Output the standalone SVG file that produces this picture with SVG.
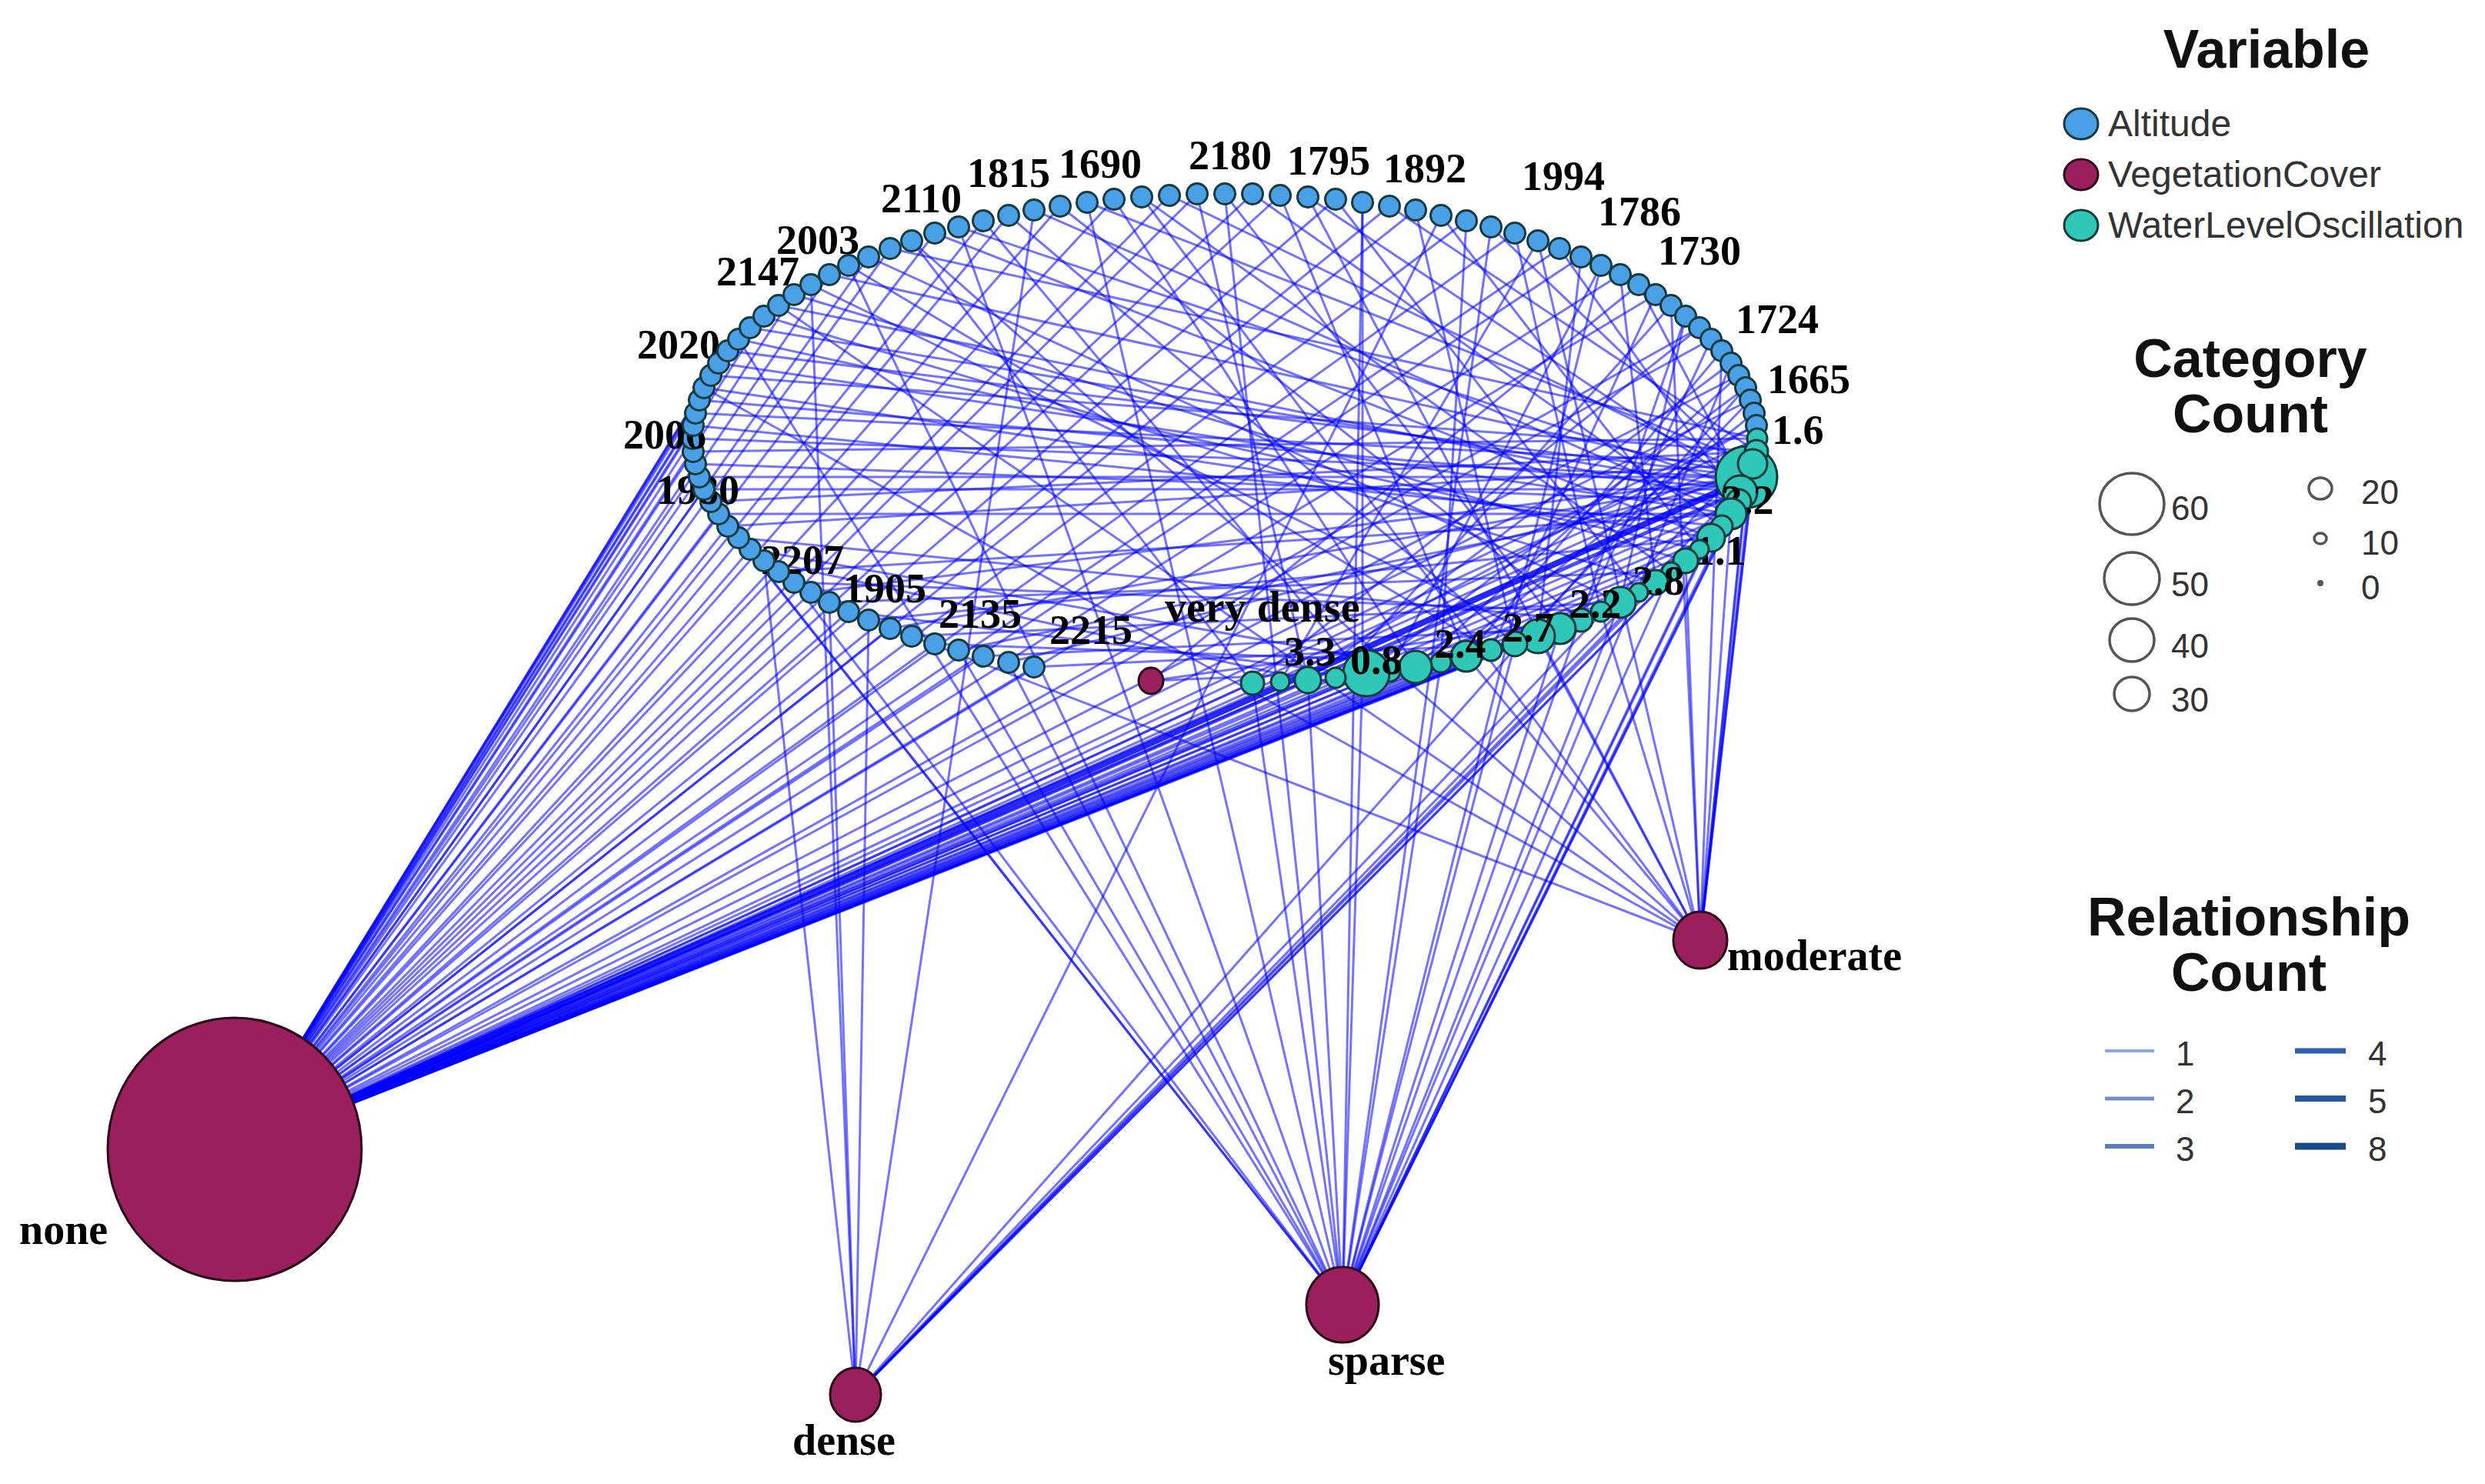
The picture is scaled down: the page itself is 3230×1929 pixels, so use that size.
<svg xmlns="http://www.w3.org/2000/svg" width="3230" height="1929" viewBox="0 0 3230 1929">
<style>
.e line{stroke:#0000ff;stroke-opacity:0.55;stroke-width:3;fill:none}
.e line.h8{stroke-width:8;stroke-opacity:0.85}
.e line.h5{stroke-width:5;stroke-opacity:0.7}
.e line.h4{stroke-width:4;stroke-opacity:0.65}
.alt{fill:#4aa0e6;stroke:#173b3d;stroke-width:3}
.wlo{fill:#2fc7b8;stroke:#173b3d;stroke-width:3}
.veg{fill:#9b1f5d;stroke:#2a0a1a;stroke-width:3}
.nl{font-family:"Liberation Serif","Times New Roman",serif;font-weight:bold;font-size:54px;fill:#000}
.vl{font-family:"Liberation Serif","Times New Roman",serif;font-weight:bold;font-size:56px;fill:#000}
.lt{font-family:"Liberation Sans",Arial,sans-serif;font-weight:bold;font-size:70px;fill:#111;text-anchor:middle}
.li{font-family:"Liberation Sans",Arial,sans-serif;font-size:48px;fill:#333}
.ln{font-family:"Liberation Sans",Arial,sans-serif;font-size:44px;fill:#333}
.cc{fill:none;stroke:#555;stroke-width:3.5}
</style>
<rect x="0" y="0" width="3230" height="1929" fill="#ffffff"/>

<g id="connectors" class="e">
<line x1="305" y1="1494" x2="1344" y2="867"/>
<line x1="305" y1="1494" x2="1278" y2="853"/>
<line x1="305" y1="1494" x2="1215" y2="837"/>
<line x1="305" y1="1494" x2="1157" y2="817"/>
<line x1="305" y1="1494" x2="1103" y2="795"/>
<line x1="305" y1="1494" x2="1054" y2="770"/>
<line x1="305" y1="1494" x2="1012" y2="743"/>
<line x1="305" y1="1494" x2="975" y2="714"/>
<line x1="305" y1="1494" x2="946" y2="684"/>
<line x1="305" y1="1494" x2="934" y2="668"/>
<line x1="305" y1="1494" x2="915" y2="636"/>
<line x1="305" y1="1494" x2="909" y2="620"/>
<line x1="305" y1="1494" x2="904" y2="603"/>
<line x1="305" y1="1494" x2="901" y2="587"/>
<line x1="305" y1="1494" x2="900" y2="570"/>
<line x1="305" y1="1494" x2="901" y2="553"/>
<line x1="305" y1="1494" x2="904" y2="537"/>
<line x1="305" y1="1494" x2="909" y2="520"/>
<line x1="305" y1="1494" x2="924" y2="488"/>
<line x1="305" y1="1494" x2="934" y2="472"/>
<line x1="305" y1="1494" x2="946" y2="456"/>
<line x1="305" y1="1494" x2="975" y2="426"/>
<line x1="305" y1="1494" x2="993" y2="411"/>
<line x1="305" y1="1494" x2="1032" y2="383"/>
<line x1="305" y1="1494" x2="1078" y2="357"/>
<line x1="305" y1="1494" x2="1129" y2="334"/>
<line x1="305" y1="1494" x2="1157" y2="323"/>
<line x1="305" y1="1494" x2="1215" y2="303"/>
<line x1="305" y1="1494" x2="1278" y2="287"/>
<line x1="305" y1="1494" x2="1311" y2="280"/>
<line x1="305" y1="1494" x2="1378" y2="268"/>
<line x1="305" y1="1494" x2="1448" y2="259"/>
<line x1="305" y1="1494" x2="1520" y2="254"/>
<line x1="305" y1="1494" x2="1556" y2="252"/>
<line x1="305" y1="1494" x2="1628" y2="252"/>
<line x1="305" y1="1494" x2="1664" y2="254"/>
<line x1="305" y1="1494" x2="1736" y2="259"/>
<line x1="305" y1="1494" x2="1806" y2="268"/>
<line x1="305" y1="1494" x2="1840" y2="273"/>
<line x1="305" y1="1494" x2="1906" y2="287"/>
<line x1="305" y1="1494" x2="1969" y2="303"/>
<line x1="305" y1="1494" x2="2027" y2="323"/>
<line x1="305" y1="1494" x2="2055" y2="334"/>
<line x1="305" y1="1494" x2="2106" y2="357"/>
<line x1="305" y1="1494" x2="2152" y2="383"/>
<line x1="305" y1="1494" x2="2209" y2="426"/>
<line x1="305" y1="1494" x2="2224" y2="441"/>
<line x1="305" y1="1494" x2="2260" y2="488"/>
<line x1="305" y1="1494" x2="2275" y2="520"/>
<line x1="305" y1="1494" x2="2283" y2="553"/>
<line x1="1745" y1="1696" x2="1311" y2="861"/>
<line x1="1745" y1="1696" x2="1246" y2="845"/>
<line x1="1745" y1="1696" x2="1032" y2="757"/>
<line x1="1745" y1="1696" x2="960" y2="699"/>
<line x1="1745" y1="1696" x2="924" y2="652"/>
<line x1="1745" y1="1696" x2="960" y2="441"/>
<line x1="1745" y1="1696" x2="1103" y2="345"/>
<line x1="1745" y1="1696" x2="1246" y2="295"/>
<line x1="1745" y1="1696" x2="1413" y2="263"/>
<line x1="1745" y1="1696" x2="1592" y2="252"/>
<line x1="1745" y1="1696" x2="1771" y2="263"/>
<line x1="1745" y1="1696" x2="1938" y2="295"/>
<line x1="1745" y1="1696" x2="2081" y2="345"/>
<line x1="1745" y1="1696" x2="2191" y2="411"/>
<line x1="1745" y1="1696" x2="2250" y2="472"/>
<line x1="1112" y1="1813" x2="1129" y2="806"/>
<line x1="1112" y1="1813" x2="1078" y2="783"/>
<line x1="1112" y1="1813" x2="993" y2="729"/>
<line x1="1112" y1="1813" x2="1054" y2="370"/>
<line x1="1112" y1="1813" x2="1344" y2="273"/>
<line x1="1112" y1="1813" x2="1873" y2="280"/>
<line x1="1112" y1="1813" x2="2269" y2="504"/>
<line x1="2210" y1="1222" x2="1185" y2="827"/>
<line x1="2210" y1="1222" x2="915" y2="504"/>
<line x1="2210" y1="1222" x2="1012" y2="397"/>
<line x1="2210" y1="1222" x2="1185" y2="313"/>
<line x1="2210" y1="1222" x2="1484" y2="256"/>
<line x1="2210" y1="1222" x2="1700" y2="256"/>
<line x1="2210" y1="1222" x2="1999" y2="313"/>
<line x1="2210" y1="1222" x2="2172" y2="397"/>
<line x1="2210" y1="1222" x2="2238" y2="456"/>
<line x1="2210" y1="1222" x2="2280" y2="537"/>
<line x1="1496" y1="885" x2="2130" y2="370"/>
<line x1="1344" y1="867" x2="1969" y2="837"/>
<line x1="1311" y1="861" x2="2276" y2="620"/>
<line x1="1278" y1="853" x2="2028" y2="817"/>
<line x1="1246" y1="845" x2="2269" y2="636"/>
<line x1="1215" y1="837" x2="1873" y2="861"/>
<line x1="1185" y1="827" x2="2106" y2="783"/>
<line x1="1157" y1="817" x2="2276" y2="620"/>
<line x1="1129" y1="806" x2="2224" y2="699"/>
<line x1="1103" y1="795" x2="1771" y2="877"/>
<line x1="1078" y1="783" x2="2172" y2="743"/>
<line x1="1054" y1="770" x2="2276" y2="620"/>
<line x1="1032" y1="757" x2="2081" y2="795"/>
<line x1="1012" y1="743" x2="2250" y2="668"/>
<line x1="993" y1="729" x2="1700" y2="884"/>
<line x1="975" y1="714" x2="1840" y2="867"/>
<line x1="960" y1="699" x2="2055" y2="806"/>
<line x1="946" y1="684" x2="2280" y2="603"/>
<line x1="934" y1="668" x2="2250" y2="668"/>
<line x1="924" y1="652" x2="2283" y2="587"/>
<line x1="915" y1="636" x2="2269" y2="636"/>
<line x1="909" y1="620" x2="2276" y2="620"/>
<line x1="904" y1="603" x2="2260" y2="652"/>
<line x1="901" y1="587" x2="2284" y2="570"/>
<line x1="900" y1="570" x2="2276" y2="620"/>
<line x1="901" y1="553" x2="2238" y2="684"/>
<line x1="904" y1="537" x2="2280" y2="603"/>
<line x1="909" y1="520" x2="2269" y2="636"/>
<line x1="915" y1="504" x2="2224" y2="699"/>
<line x1="924" y1="488" x2="2283" y2="587"/>
<line x1="934" y1="472" x2="2250" y2="668"/>
<line x1="946" y1="456" x2="2276" y2="620"/>
<line x1="960" y1="441" x2="2209" y2="714"/>
<line x1="975" y1="426" x2="2269" y2="636"/>
<line x1="993" y1="411" x2="2152" y2="757"/>
<line x1="1012" y1="397" x2="2260" y2="652"/>
<line x1="1032" y1="383" x2="2191" y2="729"/>
<line x1="1054" y1="370" x2="1999" y2="827"/>
<line x1="1078" y1="357" x2="2276" y2="620"/>
<line x1="1103" y1="345" x2="1938" y2="845"/>
<line x1="1129" y1="334" x2="2106" y2="783"/>
<line x1="1157" y1="323" x2="2284" y2="570"/>
<line x1="1185" y1="313" x2="1628" y2="888"/>
<line x1="1215" y1="303" x2="2224" y2="699"/>
<line x1="1246" y1="295" x2="2269" y2="636"/>
<line x1="1278" y1="287" x2="1771" y2="877"/>
<line x1="1311" y1="280" x2="1969" y2="837"/>
<line x1="1344" y1="273" x2="2250" y2="668"/>
<line x1="1378" y1="268" x2="2055" y2="806"/>
<line x1="1413" y1="263" x2="2280" y2="603"/>
<line x1="1448" y1="259" x2="1840" y2="867"/>
<line x1="1484" y1="256" x2="2172" y2="743"/>
<line x1="1520" y1="254" x2="2276" y2="620"/>
<line x1="1556" y1="252" x2="1700" y2="884"/>
<line x1="1592" y1="252" x2="2028" y2="817"/>
<line x1="1628" y1="252" x2="2238" y2="684"/>
<line x1="1664" y1="254" x2="1906" y2="853"/>
<line x1="1700" y1="256" x2="2269" y2="636"/>
<line x1="1736" y1="259" x2="2130" y2="770"/>
<line x1="1771" y1="263" x2="1771" y2="877"/>
<line x1="1806" y1="268" x2="2283" y2="587"/>
<line x1="1840" y1="273" x2="1969" y2="837"/>
<line x1="1873" y1="280" x2="2209" y2="714"/>
<line x1="1906" y1="287" x2="1873" y2="861"/>
<line x1="1938" y1="295" x2="2276" y2="620"/>
<line x1="1969" y1="303" x2="2081" y2="795"/>
<line x1="1999" y1="313" x2="1664" y2="886"/>
<line x1="2027" y1="323" x2="2260" y2="652"/>
<line x1="2055" y1="334" x2="1999" y2="827"/>
<line x1="2081" y1="345" x2="1806" y2="872"/>
<line x1="2106" y1="357" x2="2152" y2="757"/>
<line x1="2130" y1="370" x2="2269" y2="636"/>
<line x1="2152" y1="383" x2="1938" y2="845"/>
<line x1="2172" y1="397" x2="1736" y2="881"/>
<line x1="2191" y1="411" x2="2106" y2="783"/>
<line x1="2209" y1="426" x2="1628" y2="888"/>
<line x1="2224" y1="441" x2="2055" y2="806"/>
<line x1="2238" y1="456" x2="1906" y2="853"/>
<line x1="2250" y1="472" x2="1700" y2="884"/>
<line x1="2260" y1="488" x2="1840" y2="867"/>
<line x1="2269" y1="504" x2="1771" y2="877"/>
<line x1="2275" y1="520" x2="1969" y2="837"/>
<line x1="2280" y1="537" x2="1873" y2="861"/>
<line x1="2283" y1="553" x2="1664" y2="886"/>
<line x1="305" y1="1494" x2="2284" y2="570"/>
<line x1="305" y1="1494" x2="2283" y2="587"/>
<line x1="305" y1="1494" x2="2280" y2="603"/>
<line class="h8" x1="305" y1="1494" x2="2276" y2="620"/>
<line class="h5" x1="305" y1="1494" x2="2269" y2="636"/>
<line x1="305" y1="1494" x2="2260" y2="652"/>
<line x1="305" y1="1494" x2="2250" y2="668"/>
<line x1="305" y1="1494" x2="2238" y2="684"/>
<line x1="305" y1="1494" x2="2224" y2="699"/>
<line x1="305" y1="1494" x2="2209" y2="714"/>
<line x1="305" y1="1494" x2="2191" y2="729"/>
<line x1="305" y1="1494" x2="2172" y2="743"/>
<line x1="305" y1="1494" x2="2152" y2="757"/>
<line x1="305" y1="1494" x2="2130" y2="770"/>
<line x1="305" y1="1494" x2="2106" y2="783"/>
<line x1="305" y1="1494" x2="2081" y2="795"/>
<line x1="305" y1="1494" x2="2055" y2="806"/>
<line class="h4" x1="305" y1="1494" x2="2028" y2="817"/>
<line x1="305" y1="1494" x2="1999" y2="827"/>
<line x1="305" y1="1494" x2="1969" y2="837"/>
<line x1="305" y1="1494" x2="1938" y2="845"/>
<line x1="305" y1="1494" x2="1906" y2="853"/>
<line x1="305" y1="1494" x2="1873" y2="861"/>
<line x1="305" y1="1494" x2="1840" y2="867"/>
<line x1="305" y1="1494" x2="1806" y2="872"/>
<line class="h5" x1="305" y1="1494" x2="1771" y2="877"/>
<line x1="305" y1="1494" x2="1736" y2="881"/>
<line x1="305" y1="1494" x2="1700" y2="884"/>
<line x1="305" y1="1494" x2="1664" y2="886"/>
<line x1="305" y1="1494" x2="1628" y2="888"/>
<line x1="1745" y1="1696" x2="2284" y2="570"/>
<line x1="1745" y1="1696" x2="2276" y2="620"/>
<line x1="1745" y1="1696" x2="2269" y2="636"/>
<line x1="1745" y1="1696" x2="2250" y2="668"/>
<line x1="1745" y1="1696" x2="2224" y2="699"/>
<line x1="1745" y1="1696" x2="2172" y2="743"/>
<line x1="1745" y1="1696" x2="2106" y2="783"/>
<line x1="1745" y1="1696" x2="2028" y2="817"/>
<line x1="1745" y1="1696" x2="1969" y2="837"/>
<line x1="1745" y1="1696" x2="1873" y2="861"/>
<line x1="1745" y1="1696" x2="1771" y2="877"/>
<line x1="1745" y1="1696" x2="1700" y2="884"/>
<line x1="1745" y1="1696" x2="1628" y2="888"/>
<line x1="1112" y1="1813" x2="2283" y2="587"/>
<line x1="1112" y1="1813" x2="2276" y2="620"/>
<line x1="1112" y1="1813" x2="2260" y2="652"/>
<line x1="1112" y1="1813" x2="2238" y2="684"/>
<line x1="1112" y1="1813" x2="2209" y2="714"/>
<line x1="1112" y1="1813" x2="2152" y2="757"/>
<line x1="2210" y1="1222" x2="2284" y2="570"/>
<line x1="2210" y1="1222" x2="2280" y2="603"/>
<line x1="2210" y1="1222" x2="2276" y2="620"/>
<line x1="2210" y1="1222" x2="2269" y2="636"/>
<line x1="2210" y1="1222" x2="2250" y2="668"/>
<line x1="2210" y1="1222" x2="2191" y2="729"/>
<line x1="2210" y1="1222" x2="2081" y2="795"/>
<line x1="2210" y1="1222" x2="1999" y2="827"/>
<line x1="2210" y1="1222" x2="1906" y2="853"/>
<line x1="1496" y1="885" x2="2055" y2="806"/>
<line x1="1496" y1="885" x2="1806" y2="872"/>
</g>

<g id="altitude-nodes">
<g id="alt-111"><circle cx="1344" cy="867" r="13.5" class="alt"/><text x="1364" y="837" class="nl">2215</text></g>
<g id="alt-114"><circle cx="1311" cy="861" r="13.5" class="alt"/></g>
<g id="alt-117"><circle cx="1278" cy="853" r="13.5" class="alt"/><text x="1220" y="816" class="nl">2135</text></g>
<g id="alt-120"><circle cx="1246" cy="845" r="13.5" class="alt"/></g>
<g id="alt-123"><circle cx="1215" cy="837" r="13.5" class="alt"/></g>
<g id="alt-126"><circle cx="1185" cy="827" r="13.5" class="alt"/></g>
<g id="alt-129"><circle cx="1157" cy="817" r="13.5" class="alt"/><text x="1096" y="783" class="nl">1905</text></g>
<g id="alt-132"><circle cx="1129" cy="806" r="13.5" class="alt"/></g>
<g id="alt-135"><circle cx="1103" cy="795" r="13.5" class="alt"/></g>
<g id="alt-138"><circle cx="1078" cy="783" r="13.5" class="alt"/></g>
<g id="alt-141"><circle cx="1054" cy="770" r="13.5" class="alt"/></g>
<g id="alt-144"><circle cx="1032" cy="757" r="13.5" class="alt"/><text x="989" y="746" class="nl">2207</text></g>
<g id="alt-147"><circle cx="1012" cy="743" r="13.5" class="alt"/></g>
<g id="alt-150"><circle cx="993" cy="729" r="13.5" class="alt"/></g>
<g id="alt-153"><circle cx="975" cy="714" r="13.5" class="alt"/></g>
<g id="alt-156"><circle cx="960" cy="699" r="13.5" class="alt"/></g>
<g id="alt-159"><circle cx="946" cy="684" r="13.5" class="alt"/></g>
<g id="alt-162"><circle cx="934" cy="668" r="13.5" class="alt"/></g>
<g id="alt-165"><circle cx="924" cy="652" r="13.5" class="alt"/><text x="853" y="655" class="nl">1980</text></g>
<g id="alt-168"><circle cx="915" cy="636" r="13.5" class="alt"/></g>
<g id="alt-171"><circle cx="909" cy="620" r="13.5" class="alt"/></g>
<g id="alt-174"><circle cx="904" cy="603" r="13.5" class="alt"/></g>
<g id="alt-177"><circle cx="901" cy="587" r="13.5" class="alt"/></g>
<g id="alt-180"><circle cx="900" cy="570" r="13.5" class="alt"/><text x="810" y="583" class="nl">2006</text></g>
<g id="alt-183"><circle cx="901" cy="553" r="13.5" class="alt"/></g>
<g id="alt-186"><circle cx="904" cy="537" r="13.5" class="alt"/></g>
<g id="alt-189"><circle cx="909" cy="520" r="13.5" class="alt"/></g>
<g id="alt-192"><circle cx="915" cy="504" r="13.5" class="alt"/></g>
<g id="alt-195"><circle cx="924" cy="488" r="13.5" class="alt"/><text x="828" y="466" class="nl">2020</text></g>
<g id="alt-198"><circle cx="934" cy="472" r="13.5" class="alt"/></g>
<g id="alt-201"><circle cx="946" cy="456" r="13.5" class="alt"/></g>
<g id="alt-204"><circle cx="960" cy="441" r="13.5" class="alt"/></g>
<g id="alt-207"><circle cx="975" cy="426" r="13.5" class="alt"/></g>
<g id="alt-210"><circle cx="993" cy="411" r="13.5" class="alt"/><text x="931" y="371" class="nl">2147</text></g>
<g id="alt-213"><circle cx="1012" cy="397" r="13.5" class="alt"/></g>
<g id="alt-216"><circle cx="1032" cy="383" r="13.5" class="alt"/></g>
<g id="alt-219"><circle cx="1054" cy="370" r="13.5" class="alt"/><text x="1009" y="330" class="nl">2003</text></g>
<g id="alt-222"><circle cx="1078" cy="357" r="13.5" class="alt"/></g>
<g id="alt-225"><circle cx="1103" cy="345" r="13.5" class="alt"/></g>
<g id="alt-228"><circle cx="1129" cy="334" r="13.5" class="alt"/></g>
<g id="alt-231"><circle cx="1157" cy="323" r="13.5" class="alt"/></g>
<g id="alt-234"><circle cx="1185" cy="313" r="13.5" class="alt"/><text x="1145" y="276" class="nl">2110</text></g>
<g id="alt-237"><circle cx="1215" cy="303" r="13.5" class="alt"/></g>
<g id="alt-240"><circle cx="1246" cy="295" r="13.5" class="alt"/></g>
<g id="alt-243"><circle cx="1278" cy="287" r="13.5" class="alt"/></g>
<g id="alt-246"><circle cx="1311" cy="280" r="13.5" class="alt"/><text x="1257" y="243" class="nl">1815</text></g>
<g id="alt-249"><circle cx="1344" cy="273" r="13.5" class="alt"/></g>
<g id="alt-252"><circle cx="1378" cy="268" r="13.5" class="alt"/></g>
<g id="alt-255"><circle cx="1413" cy="263" r="13.5" class="alt"/><text x="1376" y="231" class="nl">1690</text></g>
<g id="alt-258"><circle cx="1448" cy="259" r="13.5" class="alt"/></g>
<g id="alt-261"><circle cx="1484" cy="256" r="13.5" class="alt"/></g>
<g id="alt-264"><circle cx="1520" cy="254" r="13.5" class="alt"/></g>
<g id="alt-267"><circle cx="1556" cy="252" r="13.5" class="alt"/></g>
<g id="alt-270"><circle cx="1592" cy="252" r="13.5" class="alt"/><text x="1545" y="220" class="nl">2180</text></g>
<g id="alt-273"><circle cx="1628" cy="252" r="13.5" class="alt"/></g>
<g id="alt-276"><circle cx="1664" cy="254" r="13.5" class="alt"/></g>
<g id="alt-279"><circle cx="1700" cy="256" r="13.5" class="alt"/></g>
<g id="alt-282"><circle cx="1736" cy="259" r="13.5" class="alt"/><text x="1673" y="227" class="nl">1795</text></g>
<g id="alt-285"><circle cx="1771" cy="263" r="13.5" class="alt"/></g>
<g id="alt-288"><circle cx="1806" cy="268" r="13.5" class="alt"/></g>
<g id="alt-291"><circle cx="1840" cy="273" r="13.5" class="alt"/></g>
<g id="alt-294"><circle cx="1873" cy="280" r="13.5" class="alt"/><text x="1798" y="237" class="nl">1892</text></g>
<g id="alt-297"><circle cx="1906" cy="287" r="13.5" class="alt"/></g>
<g id="alt-300"><circle cx="1938" cy="295" r="13.5" class="alt"/></g>
<g id="alt-303"><circle cx="1969" cy="303" r="13.5" class="alt"/></g>
<g id="alt-306"><circle cx="1999" cy="313" r="13.5" class="alt"/></g>
<g id="alt-309"><circle cx="2027" cy="323" r="13.5" class="alt"/><text x="1978" y="247" class="nl">1994</text></g>
<g id="alt-312"><circle cx="2055" cy="334" r="13.5" class="alt"/></g>
<g id="alt-315"><circle cx="2081" cy="345" r="13.5" class="alt"/></g>
<g id="alt-318"><circle cx="2106" cy="357" r="13.5" class="alt"/></g>
<g id="alt-321"><circle cx="2130" cy="370" r="13.5" class="alt"/><text x="2077" y="293" class="nl">1786</text></g>
<g id="alt-324"><circle cx="2152" cy="383" r="13.5" class="alt"/></g>
<g id="alt-327"><circle cx="2172" cy="397" r="13.5" class="alt"/></g>
<g id="alt-330"><circle cx="2191" cy="411" r="13.5" class="alt"/><text x="2155" y="344" class="nl">1730</text></g>
<g id="alt-333"><circle cx="2209" cy="426" r="13.5" class="alt"/></g>
<g id="alt-336"><circle cx="2224" cy="441" r="13.5" class="alt"/></g>
<g id="alt-339"><circle cx="2238" cy="456" r="13.5" class="alt"/></g>
<g id="alt-342"><circle cx="2250" cy="472" r="13.5" class="alt"/><text x="2256" y="433" class="nl">1724</text></g>
<g id="alt-345"><circle cx="2260" cy="488" r="13.5" class="alt"/></g>
<g id="alt-348"><circle cx="2269" cy="504" r="13.5" class="alt"/></g>
<g id="alt-351"><circle cx="2275" cy="520" r="13.5" class="alt"/><text x="2297" y="511" class="nl">1665</text></g>
<g id="alt-354"><circle cx="2280" cy="537" r="13.5" class="alt"/></g>
<g id="alt-357"><circle cx="2283" cy="553" r="13.5" class="alt"/></g>
</g>

<g id="vegetation-nodes">
<g id="veg-none"><ellipse cx="305" cy="1494" rx="165" ry="171" class="veg"/><text x="25" y="1617" class="vl">none</text></g>
<g id="veg-dense"><ellipse cx="1112" cy="1813" rx="33" ry="35" class="veg"/><text x="1030" y="1891" class="vl">dense</text></g>
<g id="veg-sparse"><ellipse cx="1745" cy="1696" rx="47" ry="49" class="veg"/><text x="1726" y="1787" class="vl">sparse</text></g>
<g id="veg-moderate"><ellipse cx="2210" cy="1222" rx="35" ry="37" class="veg"/><text x="2245" y="1261" class="vl">moderate</text></g>
<g id="veg-very-dense"><ellipse cx="1496" cy="885" rx="16" ry="17" class="veg"/><text x="1514" y="808" class="vl">very dense</text></g>
</g>

<g id="wlo-nodes">
<g id="wlo-9"><circle cx="2270" cy="620" r="40" class="wlo"/></g>
<g id="wlo-0"><circle cx="2284" cy="570" r="13" class="wlo"/><text x="2303" y="577" class="nl">1.6</text></g>
<g id="wlo-3"><circle cx="2283" cy="587" r="15" class="wlo"/></g>
<g id="wlo-6"><circle cx="2278" cy="603" r="19" class="wlo"/></g>
<g id="wlo-12"><circle cx="2262" cy="640" r="22" class="wlo"/></g>
<g id="wlo-15"><circle cx="2260" cy="652" r="16" class="wlo"/><text x="2238" y="668" class="nl">3.2</text></g>
<g id="wlo-18"><circle cx="2250" cy="668" r="20" class="wlo"/></g>
<g id="wlo-21"><circle cx="2238" cy="684" r="14" class="wlo"/></g>
<g id="wlo-24"><circle cx="2224" cy="699" r="18" class="wlo"/><text x="2202" y="734" class="nl">1.1</text></g>
<g id="wlo-27"><circle cx="2209" cy="714" r="12" class="wlo"/></g>
<g id="wlo-30"><circle cx="2191" cy="729" r="16" class="wlo"/></g>
<g id="wlo-33"><circle cx="2172" cy="743" r="12" class="wlo"/></g>
<g id="wlo-36"><circle cx="2152" cy="757" r="16" class="wlo"/><text x="2122" y="773" class="nl">2.8</text></g>
<g id="wlo-39"><circle cx="2130" cy="770" r="12" class="wlo"/></g>
<g id="wlo-42"><circle cx="2106" cy="783" r="20" class="wlo"/></g>
<g id="wlo-45"><circle cx="2081" cy="795" r="13" class="wlo"/></g>
<g id="wlo-48"><circle cx="2055" cy="806" r="15" class="wlo"/></g>
<g id="wlo-51"><circle cx="2028" cy="817" r="20" class="wlo"/><text x="2040" y="803" class="nl">2.2</text></g>
<g id="wlo-54"><circle cx="1999" cy="827" r="22" class="wlo"/></g>
<g id="wlo-57"><circle cx="1969" cy="837" r="16" class="wlo"/><text x="1953" y="834" class="nl">2.7</text></g>
<g id="wlo-60"><circle cx="1938" cy="845" r="14" class="wlo"/></g>
<g id="wlo-63"><circle cx="1906" cy="853" r="20" class="wlo"/></g>
<g id="wlo-66"><circle cx="1873" cy="861" r="13" class="wlo"/><text x="1864" y="855" class="nl">2.4</text></g>
<g id="wlo-69"><circle cx="1840" cy="867" r="21" class="wlo"/></g>
<g id="wlo-72"><circle cx="1806" cy="872" r="14" class="wlo"/></g>
<g id="wlo-75"><circle cx="1776" cy="875" r="30" class="wlo"/><text x="1755" y="876" class="nl">0.8</text></g>
<g id="wlo-78"><circle cx="1736" cy="881" r="13" class="wlo"/></g>
<g id="wlo-81"><circle cx="1700" cy="884" r="17" class="wlo"/><text x="1669" y="865" class="nl">3.3</text></g>
<g id="wlo-84"><circle cx="1664" cy="886" r="12" class="wlo"/></g>
<g id="wlo-87"><circle cx="1628" cy="888" r="15" class="wlo"/></g>
</g>

<g id="legend-variable">
<text x="2946" y="88" class="lt">Variable</text>
<ellipse cx="2705" cy="161" rx="22" ry="20" class="alt"/>
<text x="2740" y="177" class="li">Altitude</text>
<ellipse cx="2705" cy="227" rx="22" ry="20" class="veg"/>
<text x="2740" y="243" class="li">VegetationCover</text>
<ellipse cx="2705" cy="293" rx="22" ry="20" class="wlo"/>
<text x="2740" y="309" class="li">WaterLevelOscillation</text>
</g>

<g id="legend-category-count">
<text x="2925" y="490" class="lt">Category</text>
<text x="2925" y="562" class="lt">Count</text>
<ellipse cx="2771" cy="655" rx="42" ry="40" class="cc"/>
<text x="2822" y="676" class="ln">60</text>
<ellipse cx="2771" cy="752" rx="36" ry="34" class="cc"/>
<text x="2822" y="775" class="ln">50</text>
<ellipse cx="2771" cy="832" rx="29" ry="28" class="cc"/>
<text x="2822" y="855" class="ln">40</text>
<ellipse cx="2771" cy="902" rx="23" ry="22" class="cc"/>
<text x="2822" y="925" class="ln">30</text>
<ellipse cx="3016" cy="635" rx="15" ry="14" class="cc"/>
<text x="3069" y="655" class="ln">20</text>
<ellipse cx="3016" cy="700" rx="8" ry="7" class="cc"/>
<text x="3069" y="721" class="ln">10</text>
<circle cx="3016" cy="758" r="4" fill="#555"/>
<text x="3069" y="779" class="ln">0</text>
</g>

<g id="legend-relationship-count">
<text x="2923" y="1216" class="lt">Relationship</text>
<text x="2923" y="1288" class="lt">Count</text>
<line x1="2736" y1="1366" x2="2800" y2="1366" stroke="#8ea9db" stroke-width="4"/>
<text x="2828" y="1385" class="ln">1</text>
<line x1="2736" y1="1428" x2="2800" y2="1428" stroke="#6f8fcb" stroke-width="5"/>
<text x="2828" y="1447" class="ln">2</text>
<line x1="2736" y1="1490" x2="2800" y2="1490" stroke="#5a7cc0" stroke-width="6"/>
<text x="2828" y="1509" class="ln">3</text>
<line x1="2983" y1="1366" x2="3049" y2="1366" stroke="#2f5fa8" stroke-width="7"/>
<text x="3078" y="1385" class="ln">4</text>
<line x1="2983" y1="1428" x2="3049" y2="1428" stroke="#27589e" stroke-width="8"/>
<text x="3078" y="1447" class="ln">5</text>
<line x1="2983" y1="1490" x2="3049" y2="1490" stroke="#1b4a8a" stroke-width="9"/>
<text x="3078" y="1509" class="ln">8</text>
</g>
</svg>
